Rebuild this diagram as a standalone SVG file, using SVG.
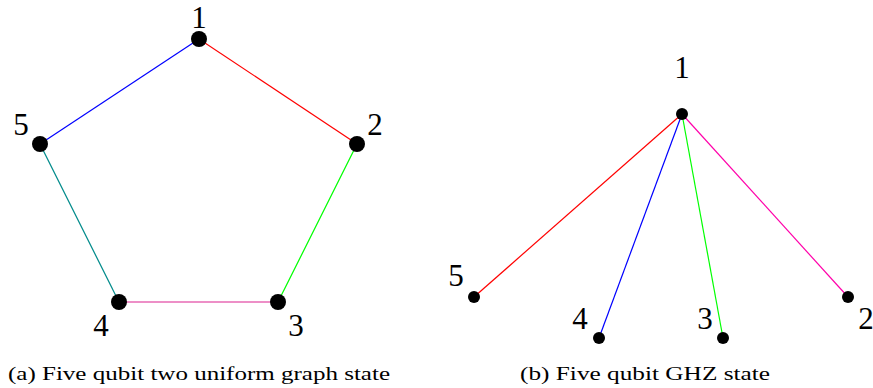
<svg xmlns="http://www.w3.org/2000/svg" width="873" height="388" viewBox="0 0 873 388">
<style>
.lbl{font-family:"Liberation Serif","DejaVu Serif",serif;font-size:31px;fill:#000;text-anchor:middle}
.cap{font-family:"Liberation Serif","DejaVu Serif",serif;font-size:18px;fill:#000}
.big{fill:#000}
.edge{stroke-width:1.2;fill:none}
</style>
<rect width="873" height="388" fill="#fff"/>
<g id="connectors">
<line class="edge" x1="199" y1="39" x2="357" y2="144" stroke="#ff0000"/>
<line class="edge" x1="357" y1="144" x2="278" y2="302" stroke="#00ff00"/>
<line class="edge" x1="278" y1="302" x2="119" y2="302" stroke="#dc2090"/>
<line class="edge" x1="119" y1="302" x2="40" y2="144" stroke="#008b8b"/>
<line class="edge" x1="40" y1="144" x2="199" y2="39" stroke="#0000ff"/>
<line class="edge" x1="682" y1="114" x2="474" y2="297" stroke="#ff0000"/>
<line class="edge" x1="682" y1="114" x2="599" y2="338" stroke="#0000ff"/>
<line class="edge" x1="682" y1="114" x2="723" y2="338" stroke="#00ff00"/>
<line class="edge" x1="682" y1="114" x2="848" y2="297" stroke="#ff00aa"/>
</g>
<g id="a1"><circle class="big" cx="199" cy="39" r="8"/><text class="lbl" x="199" y="28">1</text></g>
<g id="a2"><circle class="big" cx="357" cy="144" r="8"/><text class="lbl" x="375" y="135">2</text></g>
<g id="a3"><circle class="big" cx="278" cy="302" r="8"/><text class="lbl" x="296" y="336">3</text></g>
<g id="a4"><circle class="big" cx="119" cy="302" r="8"/><text class="lbl" x="101" y="336">4</text></g>
<g id="a5"><circle class="big" cx="40" cy="144" r="8"/><text class="lbl" x="21" y="135">5</text></g>
<g id="b1"><circle class="big" cx="682" cy="114" r="6"/><text class="lbl" x="682" y="78">1</text></g>
<g id="b2"><circle class="big" cx="848" cy="297" r="6"/><text class="lbl" x="866" y="329">2</text></g>
<g id="b3"><circle class="big" cx="723" cy="338" r="6"/><text class="lbl" x="705" y="329">3</text></g>
<g id="b4"><circle class="big" cx="599" cy="338" r="6"/><text class="lbl" x="580" y="329">4</text></g>
<g id="b5"><circle class="big" cx="474" cy="297" r="6"/><text class="lbl" x="456" y="286">5</text></g>
<g id="captions">
<text class="cap" x="8" y="380" textLength="382" lengthAdjust="spacingAndGlyphs">(a) Five qubit two uniform graph state</text>
<text class="cap" x="520" y="380" textLength="250" lengthAdjust="spacingAndGlyphs">(b) Five qubit GHZ state</text>
</g>
</svg>
